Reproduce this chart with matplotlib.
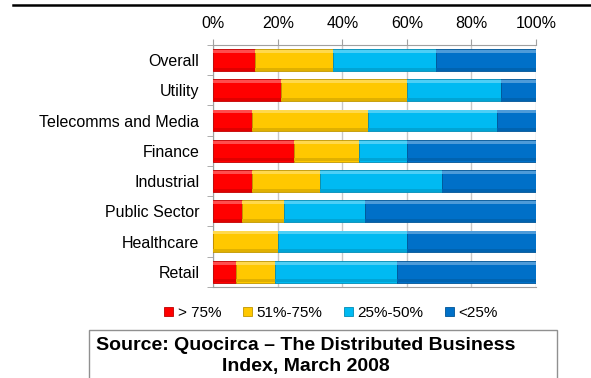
import numpy as np
import matplotlib.pyplot as plt
from matplotlib.patches import Rectangle
from matplotlib.colors import to_rgb

plt.rcParams['font.family'] = ['Liberation Sans', 'DejaVu Sans']

# sectors, top to bottom
sectors = ["Overall", "Utility", "Telecomms and Media", "Finance",
           "Industrial", "Public Sector", "Healthcare", "Retail"]
series = ["> 75%", "51%-75%", "25%-50%", "<25%"]

# share of respondents (%) in each band
gt75 = [13, 21, 12, 25, 12, 9, 0, 7]
p51_75 = [24, 39, 36, 20, 21, 13, 20, 12]
p25_50 = [32, 29, 40, 15, 38, 25, 40, 38]
lt25 = [31, 11, 12, 40, 29, 53, 40, 43]

colors = ["#FF0000", "#FFC800", "#00BAF2", "#0070C8"]


def shade(c, f):
    r, g, b = to_rgb(c)
    if f > 1:
        return tuple(x + (1 - x) * (f - 1) for x in (r, g, b))
    return tuple(x * f for x in (r, g, b))


fig = plt.figure(figsize=(5.91, 3.78), dpi=100)
ax = fig.add_axes([0.361, 0.241, 0.546, 0.640])

y = np.arange(len(sectors))
h = 0.72
left = np.zeros(len(sectors))
handles = []
for vals, name, c in zip([gt75, p51_75, p25_50, lt25], series, colors):
    vals = np.array(vals, dtype=float)
    b = ax.barh(y, vals, left=left, height=h, color=c, edgecolor=shade(c, 0.75),
                linewidth=0.6, label=name, zorder=3)
    # bevel: light strip on top, slightly darker strip at bottom
    ax.barh(y - h / 2 + 0.07, vals, left=left, height=0.1, color=shade(c, 1.3),
            linewidth=0, zorder=4)
    ax.barh(y + h / 2 - 0.06, vals, left=left, height=0.1, color=shade(c, 0.88),
            linewidth=0, zorder=4)
    handles.append(b)
    left += vals

ax.set_xlim(0, 100)
ax.set_ylim(len(sectors) - 0.5, -0.5)
ax.set_xticks(np.arange(0, 101, 20))
ax.set_xticklabels([f"{v}%" for v in range(0, 101, 20)])
ax.xaxis.tick_top()
ax.set_yticks(y)
ax.set_yticklabels(sectors)
ax.set_yticks(np.arange(-0.5, len(sectors), 1), minor=True)
ax.tick_params(axis='y', which='major', length=0, pad=10, labelsize=11.5)
ax.tick_params(axis='y', which='minor', length=4, color='#A0A0A0')
ax.tick_params(axis='x', length=4, color='#A0A0A0', pad=6, labelsize=11.5)
ax.grid(axis='x', color='#C8C8C8', linewidth=1, zorder=0)
for s in ax.spines.values():
    s.set_color('#A0A0A0')
ax.spines['right'].set_visible(False)

fig.legend(handles, series, loc='center', bbox_to_anchor=(0.56, 0.172), ncol=4,
           frameon=False, fontsize=11, handlelength=0.6, handleheight=0.6,
           handletextpad=0.3, columnspacing=1.4, borderaxespad=0)

# heading rule across the top
fig.add_artist(plt.Line2D([0.022, 1.0], [0.988, 0.988], color='black', linewidth=1.8))

# source box
fig.add_artist(Rectangle((0.150, -0.05), 0.792, 0.177, transform=fig.transFigure,
                         facecolor='white', edgecolor='#909090', linewidth=1))
fig.text(0.518, 0.058, "Source: Quocirca \u2013 The Distributed Business\nIndex, March 2008",
         ha='center', va='center', fontsize=14, fontweight='bold', linespacing=1.25)

fig.savefig('out.png', dpi=100)
